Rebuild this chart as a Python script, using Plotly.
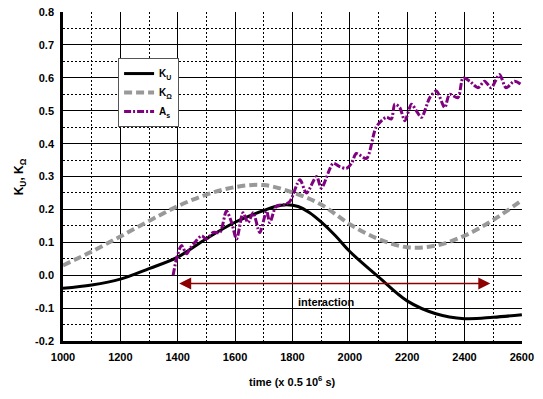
import plotly.graph_objects as go

# ---- data ----
t_ku = [1000, 1100, 1200, 1300, 1400, 1500, 1600, 1700, 1740, 1780, 1820, 1860, 1900, 1950, 2000, 2100, 2200, 2300, 2400, 2500, 2600]
ku = [-0.040, -0.030, -0.012, 0.020, 0.055, 0.111, 0.161, 0.197, 0.209, 0.214, 0.209, 0.190, 0.162, 0.120, 0.072, -0.005, -0.078, -0.117, -0.132, -0.128, -0.120]

t_ko = [1000, 1100, 1200, 1300, 1400, 1500, 1600, 1700, 1800, 1900, 2000, 2100, 2200, 2300, 2400, 2500, 2600]
ko = [0.030, 0.072, 0.118, 0.165, 0.210, 0.245, 0.268, 0.274, 0.252, 0.215, 0.155, 0.110, 0.085, 0.090, 0.120, 0.168, 0.228]

t_as = [1384, 1396, 1413, 1431, 1442, 1460, 1483, 1500, 1524, 1547, 1570, 1588, 1605, 1628, 1645, 1663,
        1686, 1710, 1721, 1744, 1773, 1791, 1826, 1849, 1884, 1901, 1942, 1965, 1988, 2006, 2023, 2058,
        2092, 2127, 2145, 2157, 2174, 2192, 2215, 2232, 2250, 2279, 2302, 2331, 2348, 2377, 2395, 2418,
        2447, 2470, 2493, 2522, 2545, 2574, 2598]
a_s = [0.000, 0.050, 0.090, 0.065, 0.080, 0.100, 0.120, 0.110, 0.130, 0.130, 0.195, 0.160, 0.110, 0.190, 0.160, 0.190,
       0.130, 0.195, 0.160, 0.210, 0.215, 0.224, 0.290, 0.250, 0.300, 0.265, 0.340, 0.330, 0.325, 0.340, 0.370, 0.355,
       0.450, 0.480, 0.475, 0.520, 0.510, 0.470, 0.520, 0.500, 0.480, 0.540, 0.560, 0.510, 0.550, 0.540, 0.600, 0.590,
       0.570, 0.590, 0.570, 0.610, 0.570, 0.590, 0.580]

x_ticks = [1000, 1200, 1400, 1600, 1800, 2000, 2200, 2400, 2600]
y_ticks = [-0.2, -0.1, 0.0, 0.1, 0.2, 0.3, 0.4, 0.5, 0.6, 0.7, 0.8]

interaction_start = 1400
interaction_end = 2490
interaction_level = -0.025
interaction_label_x = 1920
interaction_label_y = -0.082

FONT = "Liberation Sans, Arial, sans-serif"

fig = go.Figure()
fig.add_trace(go.Scatter(x=t_ku, y=ku, mode="lines", name="K<sub>U</sub>",
                         line=dict(color="black", width=3, shape="spline", smoothing=1.0)))
fig.add_trace(go.Scatter(x=t_ko, y=ko, mode="lines", name="K<sub>Ω</sub>",
                         line=dict(color="#999999", width=4, dash="8px,4px", shape="spline", smoothing=1.0)))
fig.add_trace(go.Scatter(x=t_as, y=a_s, mode="lines", name="A<sub>s</sub>",
                         line=dict(color="#800080", width=3, dash="7px,2px,2px,2px", shape="spline", smoothing=0.8)))

fig.add_annotation(x=interaction_end, y=interaction_level, ax=interaction_start, ay=interaction_level,
                   xref="x", yref="y", axref="x", ayref="y", text="", showarrow=True,
                   arrowside="end+start", arrowhead=2, arrowsize=1.6, arrowwidth=1.5, arrowcolor="#8B0000")
fig.add_annotation(x=interaction_label_x, y=interaction_label_y, xref="x", yref="y", text="interaction",
                   showarrow=False, font=dict(family=FONT, size=11, color="black", weight="bold"))

# axis titles
fig.add_annotation(x=-0.094, y=0.5, xref="paper", yref="paper", xanchor="center", yanchor="middle",
                   text="K<sub>U</sub>, K<sub>Ω</sub>",
                   textangle=-90, showarrow=False, font=dict(family=FONT, size=12, color="black", weight="bold"))
fig.add_annotation(x=0.5, y=-0.122, xref="paper", yref="paper", xanchor="center", yanchor="middle",
                   text="time (x 0.5 10<sup>6</sup> s)",
                   showarrow=False, font=dict(family=FONT, size=11, color="black", weight="bold"))

grid = dict(showgrid=True, gridcolor="black", gridwidth=1.3, zeroline=False,
            showline=True, linecolor="black", linewidth=2.5, ticks="", ticklabeloverflow="allow",
            tickfont=dict(family=FONT, size=11, color="black", weight="bold"))

fig.update_xaxes(range=[1000, 2600.5], tickvals=x_ticks, ticktext=[str(v) for v in x_ticks],
                 minor=dict(dtick=100, showgrid=True, gridcolor="black", gridwidth=1.2, griddash="2px,2px", tick0=1000),
                 ticklabelstandoff=4, **grid)
fig.update_yaxes(range=[-0.2, 0.8003], tickvals=y_ticks, ticktext=[f"{v:.1f}" for v in y_ticks],
                 minor=dict(dtick=0.05, showgrid=True, gridcolor="black", gridwidth=1.2, griddash="2px,2px", tick0=0),
                 ticklabelstandoff=4, **grid)

fig.update_layout(
    width=543, height=399,
    margin=dict(l=63, r=21, t=6, b=58),
    paper_bgcolor="white", plot_bgcolor="white",
    showlegend=True,
    legend=dict(x=0.12, y=0.86, xanchor="left", yanchor="top",
                bgcolor="white", bordercolor="#555555", borderwidth=1,
                font=dict(family=FONT, size=10, color="black", weight="bold"),
                itemwidth=30, tracegroupgap=0),
    font=dict(family=FONT),
)

fig.write_html("out.html")
